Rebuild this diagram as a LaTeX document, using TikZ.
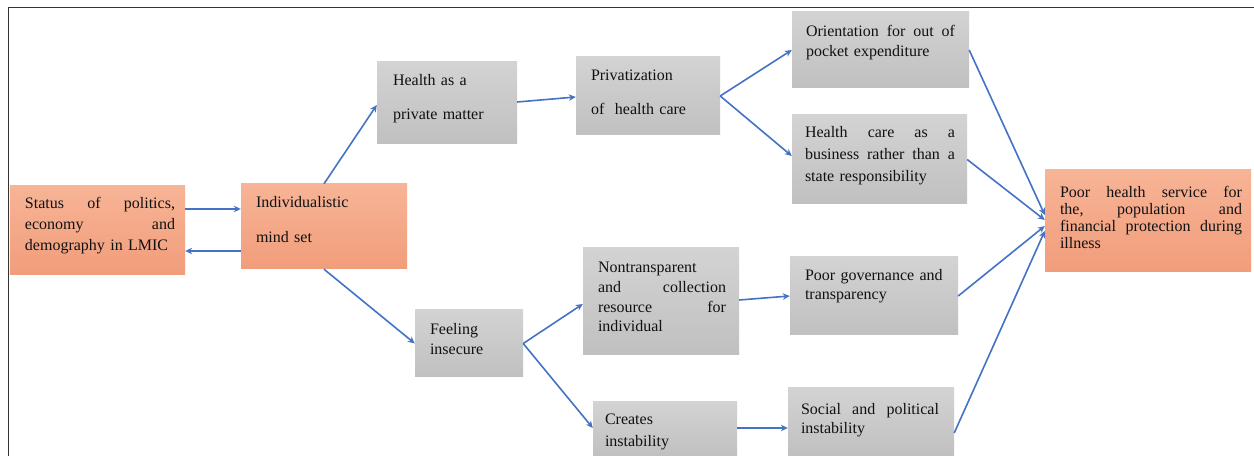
\documentclass[tikz,border=0pt]{standalone}
\usepackage{fontspec}
\setmainfont{Liberation Serif}
\usetikzlibrary{arrows.meta}
\definecolor{arrowblue}{HTML}{4472C4}
\definecolor{orangetop}{HTML}{F7B496}
\definecolor{orangebot}{HTML}{F19D7B}
\definecolor{greytop}{HTML}{D3D3D3}
\definecolor{greybot}{HTML}{C0C0C0}
\definecolor{inktext}{HTML}{111111}
\definecolor{framegrey}{HTML}{333333}
\newcommand\lsp[1]{\fontsize{16bp}{#1bp}\selectfont}
\tikzset{
  orangebox/.style={rectangle, inner sep=0pt, top color=orangetop, bottom color=orangebot, draw=none},
  greybox/.style={rectangle, inner sep=0pt, top color=greytop, bottom color=greybot, draw=none},
  boxtext/.style={inner sep=0pt, anchor=base west, align=left, text=inktext},
  link/.style={draw=arrowblue, line width=1.6bp, -{Stealth[length=7bp,width=6.5bp]}},
}
\begin{document}
\begin{tikzpicture}[x=1bp,y=-1bp]
\useasboundingbox[fill=white] (0,0) rectangle (1254,456);
% outer frame (top and left edges only)
\draw[framegrey, line width=1.5bp] (8.5,456) -- (8.5,7.5) -- (1254,7.5);

% boxes
\node[orangebox, minimum width=175bp, minimum height=89bp] (b1) at (97.5,230.5) {};
\node[orangebox, minimum width=166bp, minimum height=85bp] (b2) at (324,226.5) {};
\node[greybox, minimum width=140bp, minimum height=82bp] (b3) at (447,103) {};
\node[greybox, minimum width=144bp, minimum height=78bp] (b4) at (648,96) {};
\node[greybox, minimum width=177bp, minimum height=76bp] (b5) at (880.5,50) {};
\node[greybox, minimum width=175bp, minimum height=89bp] (b6) at (879.5,159.5) {};
\node[greybox, minimum width=108bp, minimum height=67bp] (b7) at (469,343.5) {};
\node[greybox, minimum width=156bp, minimum height=107bp] (b8) at (661,301.5) {};
\node[greybox, minimum width=144bp, minimum height=54bp] (b9) at (665,429) {};
\node[greybox, minimum width=168bp, minimum height=78bp] (b10) at (874,296) {};
\node[greybox, minimum width=166bp, minimum height=68bp] (b11) at (871,422) {};
\node[orangebox, minimum width=206bp, minimum height=102bp] (b12) at (1148,221) {};

% box texts
\node[boxtext, font=\lsp{21}, text width=150bp] (t1) at ([xshift=15bp,yshift=-23bp]b1.north west)
  {Status\hfill of\hfill politics,\\ economy\hfill and\\ demography in LMIC};
\node[boxtext, font=\lsp{35}, text width=140bp] (t2) at ([xshift=15bp,yshift=-24bp]b2.north west)
  {Individualistic\\ mind set};
\node[boxtext, font=\lsp{34}, text width=120bp] (t3) at ([xshift=16bp,yshift=-24bp]b3.north west)
  {Health as a\\ private matter};
\node[boxtext, font=\lsp{34}, text width=125bp] (t4) at ([xshift=15bp,yshift=-24bp]b4.north west)
  {Privatization\\ of\ \ health care};
\node[boxtext, font=\lsp{20}, text width=149bp] (t5) at ([xshift=14bp,yshift=-25bp]b5.north west)
  {Orientation\hfill for\hfill out\hfill of\\ pocket expenditure};
\node[boxtext, font=\lsp{22}, text width=150bp] (t6) at ([xshift=13bp,yshift=-23bp]b6.north west)
  {Health\hfill care\hfill as\hfill a\\ business\hfill rather\hfill than\hfill a\\ state responsibility};
\node[boxtext, font=\lsp{20}, text width=85bp] (t7) at ([xshift=15bp,yshift=-25bp]b7.north west)
  {Feeling\\ insecure};
\node[boxtext, font=\lsp{19.7}, text width=128bp] (t8) at ([xshift=15bp,yshift=-25bp]b8.north west)
  {Nontransparent\\ and\hfill collection\\ resource\hfill for\\ individual};
\node[boxtext, font=\lsp{22}, text width=120bp] (t9) at ([xshift=12bp,yshift=-23bp]b9.north west)
  {Creates\\ instability};
\node[boxtext, font=\lsp{19}, text width=145bp] (t10) at ([xshift=15bp,yshift=-24bp]b10.north west)
  {Poor governance and\\ transparency};
\node[boxtext, font=\lsp{19}, text width=138bp] (t11) at ([xshift=13bp,yshift=-27bp]b11.north west)
  {Social\hfill and\hfill political\\ instability};
\node[boxtext, font=\lsp{17}, text width=182bp] (t12) at ([xshift=15bp,yshift=-28bp]b12.north west)
  {Poor\hfill health\hfill service\hfill for\\ the,\hfill population\hfill and\\ financial\hfill protection\hfill during\\ illness};

% connectors
\draw[link] (b1.east |- 0,209) -- (b2.west |- 0,209);
\draw[link] (b2.west |- 0,251) -- (b1.east |- 0,251);
\draw[link] (b2.north) -- (b3.west |- 0,105);
\draw[link] (b2.south) -- (b7.west);
\draw[link] (b3.east |- 0,102) -- (b4.west |- 0,97);
\draw[link] (b4.east) -- (b5.west);
\draw[link] (b4.east) -- (b6.west |- 0,156);
\draw[link] (b7.east) -- (b8.west |- 0,304);
\draw[link] (b7.east) -- (b9.west |- 0,428);
\draw[link] (b8.east |- 0,300) -- (b10.west);
\draw[link] (b9.east |- 0,428) -- (b11.west |- 0,428);
\draw[link] (b5.east) -- (b12.west |- 0,215);
\draw[link] (b6.east) -- (b12.west |- 0,220);
\draw[link] (b10.east) -- (b12.west |- 0,226);
\draw[link] (b11.east |- 0,433) -- (b12.west |- 0,231);
\end{tikzpicture}
\end{document}
